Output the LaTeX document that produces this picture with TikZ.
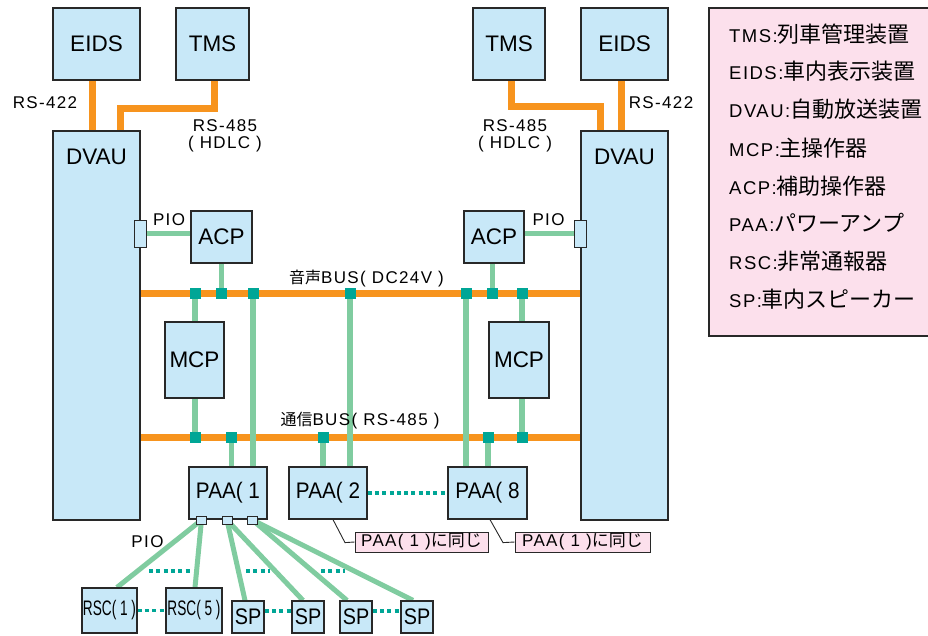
\documentclass[tikz,border=0pt]{standalone}
\usepackage{fontspec}
\setmainfont{Liberation Sans}
\newfontfamily\jpfont{Noto Sans CJK JP}
\newfontfamily\lblfont[LetterSpace=8]{Liberation Sans}
\usetikzlibrary{calc}
\pgfdeclarelayer{bg}
\pgfsetlayers{bg,main}
\definecolor{boxblue}{RGB}{200,232,248}
\definecolor{edgecol}{RGB}{40,40,40}
\definecolor{busorange}{RGB}{247,148,30}
\definecolor{lgreen}{RGB}{128,204,160}
\definecolor{jteal}{RGB}{0,166,150}
\definecolor{lpink}{RGB}{252,224,236}
\newcommand\bigtxt{\fontsize{22.5}{27}\selectfont}
\begin{document}
\begin{tikzpicture}[x=1pt,y=-1pt,
  unit/.style={draw=edgecol, line width=1.2pt, fill=boxblue, inner sep=0pt, font=\bigtxt},
  obus/.style={draw=busorange, line width=7pt},
  gline/.style={draw=lgreen, line width=5.5pt},
  jn/.style={fill=jteal, minimum size=11pt, inner sep=0pt},
  dots/.style={draw=jteal, line width=3.5pt, dash pattern=on 4pt off 3.3pt},
  port/.style={draw=edgecol, line width=0.9pt, fill=boxblue, minimum width=10pt, minimum height=8pt, inner sep=0pt},
  piobox/.style={draw=edgecol, line width=0.9pt, fill=boxblue, minimum width=12pt, minimum height=27pt, inner sep=0pt},
  callbox/.style={draw=edgecol, line width=1pt, fill=lpink, minimum height=20pt, inner sep=0pt, font=\lblfont\fontsize{17}{20}\selectfont},
  callline/.style={draw=edgecol, line width=0.9pt},
  lbl/.style={inner sep=0pt, font=\lblfont\fontsize{17}{20}\selectfont},
  leg/.style={anchor=base west, inner sep=0pt, font=\lblfont\fontsize{18.5}{22}\selectfont}
]
\useasboundingbox (0,0) rectangle (928,635);

% legend
\node[draw=edgecol, line width=1.2pt, fill=lpink, minimum width=231pt, minimum height=328pt, inner sep=0pt] (legend) at (824.5,172) {};
\node[leg] (l1) at (729,42) {TMS:{\jpfont\fontsize{22}{26}\selectfont 列車管理装置}};
\node[leg] (l2) at (729,79) {EIDS:{\jpfont\fontsize{22}{26}\selectfont 車内表示装置}};
\node[leg] (l3) at (729,117) {DVAU:{\jpfont\fontsize{22}{26}\selectfont 自動放送装置}};
\node[leg] (l4) at (729,156) {MCP:{\jpfont\fontsize{22}{26}\selectfont 主操作器}};
\node[leg] (l5) at (729,194) {ACP:{\jpfont\fontsize{22}{26}\selectfont 補助操作器}};
\node[leg] (l6) at (729,231) {PAA:{\jpfont\fontsize{22}{26}\selectfont パワーアンプ}};
\node[leg] (l7) at (729,269) {RSC:{\jpfont\fontsize{22}{26}\selectfont 非常通報器}};
\node[leg] (l8) at (729,307) {SP:{\jpfont\fontsize{22}{26}\selectfont 車内スピーカー}};

% units
\node[unit, minimum width=87pt, minimum height=72pt] (eidsL) at (96.5,44) {EIDS};
\node[unit, minimum width=73pt, minimum height=72pt] (tmsL) at (212.5,44) {TMS};
\node[unit, minimum width=72pt, minimum height=72pt] (tmsR) at (509,44) {TMS};
\node[unit, minimum width=87pt, minimum height=72pt] (eidsR) at (624.5,44) {EIDS};
\node[unit, minimum width=87pt, minimum height=389pt] (dvauL) at (96.5,325.5) {};
\node[unit, minimum width=87pt, minimum height=389pt] (dvauR) at (624.5,325.5) {};
\node[inner sep=0pt, font=\bigtxt] (dvauLt) at (96.5,157) {DVAU};
\node[inner sep=0pt, font=\bigtxt] (dvauRt) at (624.5,157) {DVAU};
\node[piobox] (pioL) at (140,233.5) {};
\node[piobox] (pioR) at (580,233.5) {};
\node[unit, minimum width=61pt, minimum height=52pt] (acpL) at (221.5,237) {ACP};
\node[unit, minimum width=60pt, minimum height=52pt] (acpR) at (494,237) {ACP};
\node[unit, minimum width=59pt, minimum height=76pt] (mcpL) at (194.5,360) {MCP};
\node[unit, minimum width=60pt, minimum height=76pt] (mcpR) at (519,360) {MCP};
\node[unit, minimum width=78pt, minimum height=52pt] (paa1) at (228,493) {\scalebox{0.92}[1]{PAA( 1}};
\node[unit, minimum width=78pt, minimum height=52pt] (paa2) at (328,493) {\scalebox{0.92}[1]{PAA( 2}};
\node[unit, minimum width=79pt, minimum height=52pt] (paa8) at (487.5,493) {\scalebox{0.92}[1]{PAA( 8}};
\node[port] (p1) at (201.5,520) {};
\node[port] (p2) at (227,520) {};
\node[port] (p3) at (252.5,520) {};
\node[unit, minimum width=55pt, minimum height=45pt, font=\fontsize{21}{25}\selectfont] (rsc1) at (109.5,610.5) {\scalebox{0.65}[1]{RSC( 1 )}};
\node[unit, minimum width=56pt, minimum height=45pt, font=\fontsize{21}{25}\selectfont] (rsc5) at (194,610.5) {\scalebox{0.65}[1]{RSC( 5 )}};
\node[unit, minimum width=32pt, minimum height=32pt] (sp1) at (248,617) {\scalebox{0.88}[1]{SP}};
\node[unit, minimum width=32pt, minimum height=32pt] (sp2) at (308,617) {\scalebox{0.88}[1]{SP}};
\node[unit, minimum width=32pt, minimum height=32pt] (sp3) at (356,617) {\scalebox{0.88}[1]{SP}};
\node[unit, minimum width=32pt, minimum height=32pt] (sp4) at (417,617) {\scalebox{0.88}[1]{SP}};
\node[callbox, minimum width=133pt] (call1) at (421.5,542) {PAA( 1 ){\jpfont\fontsize{17}{20}\selectfont に同じ}};
\node[callbox, minimum width=135pt] (call2) at (582.5,542) {PAA( 1 ){\jpfont\fontsize{17}{20}\selectfont に同じ}};

% helper coordinates
\coordinate (vb) at (0,293);
\coordinate (cb) at (0,437);
\coordinate (k195) at (195,0);
\coordinate (k231) at (231.5,0);
\coordinate (k253) at (253,0);
\coordinate (k323) at (323,0);
\coordinate (k350) at (350,0);
\coordinate (k466) at (466,0);
\coordinate (k488) at (488,0);
\coordinate (k492) at (492.5,0);
\coordinate (k522) at (522,0);

\begin{pgfonlayer}{bg}
% orange links
\draw[obus] ([xshift=-4pt]eidsL.south) -- ([xshift=-4pt]eidsL.south |- dvauL.north);
\draw[obus] ([xshift=1.5pt]tmsL.south) -- ++(0,28) -| ([xshift=23.5pt]dvauL.north);
\draw[obus] ([xshift=-3.5pt]eidsR.south) -- ([xshift=-3.5pt]eidsR.south |- dvauR.north);
\draw[obus] ([xshift=2pt]tmsR.south) -- ++(0,26) -| ([xshift=-24.5pt]dvauR.north);
\draw[obus] (dvauL.east |- vb) -- (dvauR.west |- vb);
\draw[obus] (dvauL.east |- cb) -- (dvauR.west |- cb);
% green links
\draw[gline] (pioL.center) -- (pioL.center -| acpL.west);
\draw[gline] (pioR.center) -- (pioR.center -| acpR.east);
\draw[gline] (k195 |- vb) -- (k195 |- mcpL.north);
\draw[gline] (k195 |- mcpL.south) -- (k195 |- cb);
\draw[gline] (acpL.south) -- (acpL.south |- vb);
\draw[gline] (k253 |- vb) -- (k253 |- paa1.north);
\draw[gline] (k231 |- cb) -- (k231 |- paa1.north);
\draw[gline] (k350 |- vb) -- (k350 |- paa2.north);
\draw[gline] (k323 |- cb) -- (k323 |- paa2.north);
\draw[gline] (k466 |- vb) -- (k466 |- paa8.north);
\draw[gline] (k488 |- cb) -- (k488 |- paa8.north);
\draw[gline] (k492 |- acpR.south) -- (k492 |- vb);
\draw[gline] (k522 |- vb) -- (k522 |- mcpR.north);
\draw[gline] (k522 |- mcpR.south) -- (k522 |- cb);
% PIO fan-out
\draw[gline, line width=5pt] (p1.center) -- ([xshift=7.5pt]rsc1.north);
\draw[gline, line width=5pt] (p1.center) -- ([xshift=1pt]rsc5.north);
\draw[gline, line width=5pt] (p2.center) -- ([xshift=-3pt]sp1.north);
\draw[gline, line width=5pt] (p2.center) -- ([xshift=-5pt]sp2.north);
\draw[gline, line width=5pt] (p3.center) -- ([xshift=-9pt]sp3.north);
\draw[gline, line width=5pt] (p3.center) -- ([xshift=-4pt]sp4.north);
\end{pgfonlayer}

% junctions
\node[jn] (jv1) at (k195 |- vb) {};
\node[jn] (jv2) at (acpL.south |- vb) {};
\node[jn] (jv3) at (k253 |- vb) {};
\node[jn] (jv4) at (k350 |- vb) {};
\node[jn] (jv5) at (k466 |- vb) {};
\node[jn] (jv6) at (k492 |- vb) {};
\node[jn] (jv7) at (k522 |- vb) {};
\node[jn] (jc1) at (k195 |- cb) {};
\node[jn] (jc2) at (k231 |- cb) {};
\node[jn] (jc3) at (k323 |- cb) {};
\node[jn] (jc4) at (k488 |- cb) {};
\node[jn] (jc5) at (k522 |- cb) {};

% dotted continuations
\draw[dots] (paa2.east) -- (paa8.west);
\draw[dots] (rsc1.east) -- (rsc5.west);
\draw[dots] ([yshift=6pt]sp1.east) -- ([yshift=6pt]sp2.west);
\draw[dots] ([yshift=6pt]sp3.east) -- ([yshift=6pt]sp4.west);
\draw[dots] (149,571) -- (192,571);
\draw[dots] (246,571) -- (270,571);
\draw[dots] (321,571) -- (345,571);

% callout leaders
\draw[callline] ([xshift=5pt]paa2.south) -- ++(12,23) -- (call1.west);
\draw[callline] ([xshift=2.5pt]paa8.south) -- ++(13,23) -- (call2.west);

% labels
\node[lbl] (t422L) at (45,103) {RS-422};
\node[lbl] (t485L) at (225,126) {RS-485};
\node[lbl] (thdL) at (225,144) {( HDLC )};
\node[lbl] (t422R) at (661,103) {RS-422};
\node[lbl] (t485R) at (515,126) {RS-485};
\node[lbl] (thdR) at (515,144) {( HDLC )};
\node[lbl] (pioLt) at (169,220) {PIO};
\node[lbl] (pioRt) at (548.5,220) {PIO};
\node[lbl] (pioBt) at (147.5,542) {PIO};
\node[lbl] (vbt) at (366.5,279) {{\jpfont\fontsize{16}{18}\selectfont 音声}BUS( DC24V )};
\node[lbl] (cbt) at (360,421) {{\jpfont\fontsize{16}{18}\selectfont 通信}BUS( RS-485 )};
\end{tikzpicture}
\end{document}
